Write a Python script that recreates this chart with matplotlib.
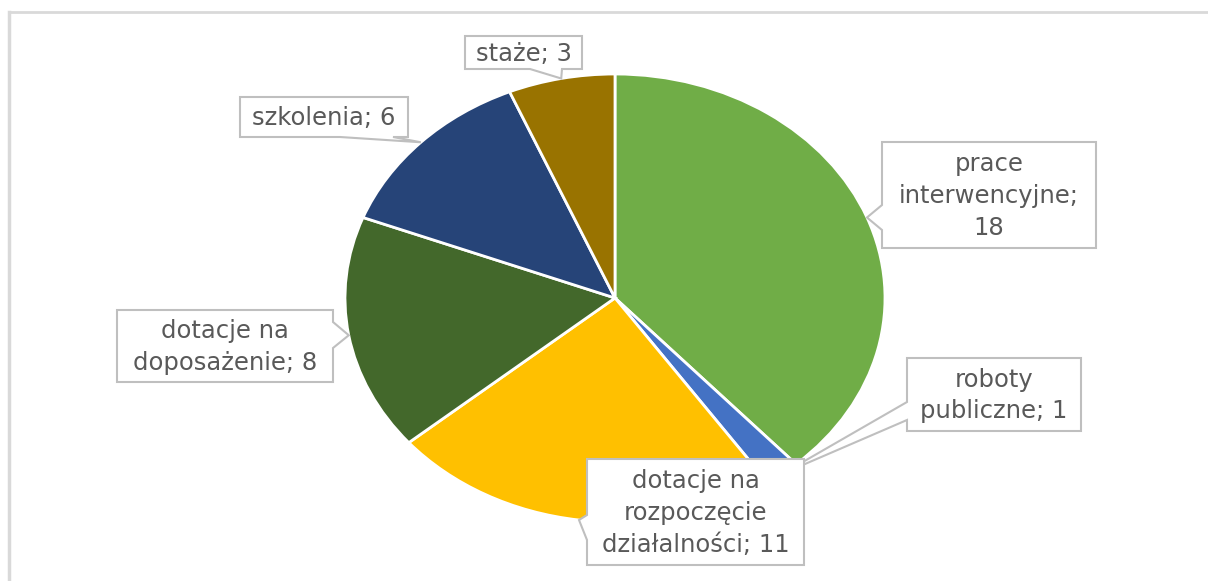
import numpy as np
import matplotlib
matplotlib.use('Agg')
import matplotlib.pyplot as plt
from matplotlib.patches import Polygon

# data
categories = ['prace\ninterwencyjne', 'roboty\npubliczne', 'dotacje na\nrozpoczęcie\ndziałalności',
              'dotacje na\ndoposażenie', 'szkolenia', 'staże']
values = [18, 1, 11, 8, 6, 3]
seps = ['\n', ' ', ' ', ' ', ' ', ' ']
colors = ['#70AD47', '#4472C4', '#FFC000', '#43682B', '#264478', '#997300']

# callout boxes in pixels (x0, y0, x1, y1), side of the notch and its base
boxes = [(882, 142, 1096, 248), (907, 358, 1081, 431), (587, 459, 804, 565),
         (117, 310, 333, 382), (240, 97, 408, 137), (465, 36, 582, 69)]
sides = ['left', 'left', 'left', 'right', 'bottom', 'bottom']
bases = [(205, 230), (402, 420), (515, 540), (322, 348), (340, 393), (530, 562)]
order = [0, 1, 3, 4, 5, 2]  # draw rozpoczecie last, it covers the roboty leader

W, H = 1208, 581
fig = plt.figure(figsize=(W/100, H/100), dpi=100)

cx, cy, rx, ry = 615, 298, 270, 224
ax = fig.add_axes([(cx-rx)/W, (H-(cy+ry))/H, 2*rx/W, 2*ry/H])
wedges, _ = ax.pie(values, colors=colors, startangle=90, counterclock=False,
                   wedgeprops=dict(edgecolor='white', linewidth=2))
ax.set_aspect('auto')
ax.set_xlim(-1, 1); ax.set_ylim(-1, 1)
ax.axis('off')

# overlay in pixel coords for frame and callouts
ax0 = fig.add_axes([0, 0, 1, 1])
ax0.set_xlim(0, W); ax0.set_ylim(H, 0)
ax0.axis('off')
ax0.set_zorder(5)
ax0.patch.set_alpha(0)

ax0.plot([9, 9], [H, 12], color='#D9D9D9', lw=2.5)
ax0.plot([9, W], [12, 12], color='#D9D9D9', lw=2)

def tip_of(w):
    th = np.deg2rad((w.theta1 + w.theta2) / 2.0)
    p = ax.transData.transform((np.cos(th), np.sin(th)))
    return ax0.transData.inverted().transform(p)

def callout(box, side, base, tip, text):
    x0, y0, x1, y1 = box
    a, b = base
    tx, ty = tip
    if side == 'left':
        pts = [(x0, y0), (x1, y0), (x1, y1), (x0, y1), (x0, b), (tx, ty), (x0, a)]
    elif side == 'right':
        pts = [(x0, y0), (x1, y0), (x1, a), (tx, ty), (x1, b), (x1, y1), (x0, y1)]
    else:
        pts = [(x0, y0), (x1, y0), (x1, y1), (b, y1), (tx, ty), (a, y1), (x0, y1)]
    ax0.add_patch(Polygon(pts, closed=True, facecolor='white', edgecolor='#BFBFBF', lw=1.5, zorder=3))
    ax0.text((x0+x1)/2.0, (y0+y1)/2.0 + 1, text, ha='center', va='center', fontsize=17.5,
             color='#595959', linespacing=1.4, family='DejaVu Sans', zorder=4)

for i in order:
    label = categories[i] + ';' + seps[i] + str(values[i])
    callout(boxes[i], sides[i], bases[i], tip_of(wedges[i]), label)

fig.savefig('out.png', dpi=100, facecolor='white')
